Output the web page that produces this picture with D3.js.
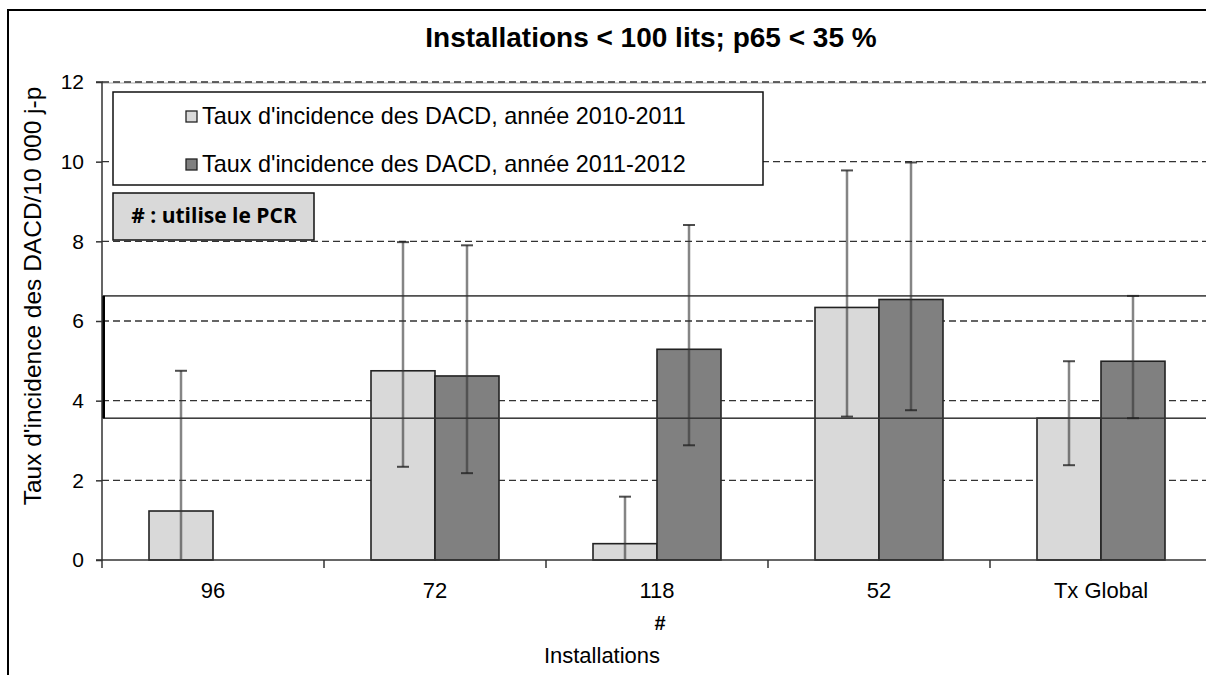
<!DOCTYPE html>
<html><head><meta charset="utf-8">
<script src="https://cdn.jsdelivr.net/npm/d3@7"></script>
<style>body{margin:0;background:#fff;}svg{display:block;font-family:"Liberation Sans",Arial,sans-serif;}</style>
</head><body>
<svg id="c" width="1206" height="675"></svg>
<script>
const categories = ["96", "72", "118", "52", "Tx Global"];
const seriesNames = ["Taux d'incidence des DACD, année 2010-2011", "Taux d'incidence des DACD, année 2011-2012"];
const values2010 = [1.23, 4.75, 0.41, 6.34, 3.56];
const low2010    = [0,    2.34, 0,    3.6,  2.38];
const high2010   = [4.75, 7.98, 1.59, 9.78, 4.99];
const values2011 = [null, 4.62, 5.29, 6.54, 4.99];
const low2011    = [null, 2.18, 2.88, 3.76, 3.56];
const high2011   = [null, 7.9,  8.41, 9.98, 6.63];
const yTicks = [0, 2, 4, 6, 8, 10, 12];
const bandRange = [3.56, 6.63];
const title = "Installations < 100 lits; p65 < 35 %";
const yLabel = "Taux d'incidence des DACD/10 000 j-p";
const xLabel = "Installations";
const pcrCats = ["118"];
const noteText = "# : utilise le PCR";
const colors = ["#d9d9d9", "#808080"];

(function () {
const svg = d3.select("#c");
const pL = 102, pR = 1212, pT = 82, pB = 560;
const x = d3.scaleBand().domain(categories).range([pL, pR]).paddingInner(0).paddingOuter(0);
const y = d3.scaleLinear().domain([0, 12]).range([pB, pT]);
const barW = 64;

// outer frame
svg.append("rect").attr("x", 8).attr("y", 10).attr("width", 1300).attr("height", 800)
  .attr("fill", "none").attr("stroke", "#000").attr("stroke-width", 2);

// title
svg.append("text").attr("x", 651).attr("y", 47).attr("text-anchor", "middle")
  .attr("font-size", 28).attr("font-weight", "bold").attr("fill", "#000").text(title);

// plot top border (gray)
svg.append("line").attr("x1", pL).attr("x2", 1206).attr("y1", y(12) + 1).attr("y2", y(12) + 1)
  .attr("stroke", "#aaa").attr("stroke-width", 1);

// gridlines
svg.append("g").selectAll("line").data(yTicks.filter(d => d > 0)).join("line")
  .attr("x1", pL).attr("x2", 1206).attr("y1", d => y(d)).attr("y2", d => y(d))
  .attr("stroke", "#333").attr("stroke-width", 1.3).attr("stroke-dasharray", "7,4");

// bars
const data = categories.map((c, i) => ({c, i}));
const series = [
  {v: values2010, lo: low2010, hi: high2010, off: -barW, col: colors[0]},
  {v: values2011, lo: low2011, hi: high2011, off: 0, col: colors[1]}
];
series.forEach(s => {
  svg.append("g").selectAll("rect").data(data.filter(d => s.v[d.i] != null)).join("rect")
    .attr("x", d => x(d.c) + x.bandwidth() / 2 + s.off)
    .attr("y", d => y(s.v[d.i]))
    .attr("width", barW)
    .attr("height", d => y(0) - y(s.v[d.i]))
    .attr("fill", s.col).attr("stroke", "#222").attr("stroke-width", 1.6);
});

// band rectangle
svg.append("rect").attr("x", pL + 1.5).attr("y", y(bandRange[1])).attr("width", 1300)
  .attr("height", y(bandRange[0]) - y(bandRange[1]))
  .attr("fill", "none").attr("stroke", "#333").attr("stroke-width", 1.5);
svg.append("line").attr("x1", pL + 1.5).attr("x2", pL + 1.5).attr("y1", y(bandRange[1])).attr("y2", y(bandRange[0]))
  .attr("stroke", "#000").attr("stroke-width", 3);

// error bars
series.forEach(s => {
  const g = svg.append("g");
  data.filter(d => s.v[d.i] != null).forEach(d => {
    const cx = x(d.c) + x.bandwidth() / 2 + s.off + barW / 2;
    g.append("line").attr("x1", cx).attr("x2", cx).attr("y1", y(s.lo[d.i])).attr("y2", y(s.hi[d.i]))
      .attr("stroke", "#333").attr("stroke-opacity", 0.6).attr("stroke-width", 2.5);
    [s.lo[d.i], s.hi[d.i]].forEach(v => {
      if (v > 0) g.append("line").attr("x1", cx - 6).attr("x2", cx + 6).attr("y1", y(v)).attr("y2", y(v))
        .attr("stroke", "#222").attr("stroke-opacity", 0.8).attr("stroke-width", 2);
    });
  });
});

// y axis
const yAxis = d3.axisLeft(y).tickValues(yTicks).tickSize(6).tickPadding(12).tickFormat(d3.format("d"));
const ya = svg.append("g").attr("transform", `translate(${pL},0)`).call(yAxis);
ya.select(".domain").attr("stroke", "#333").attr("stroke-width", 1.5).attr("d", `M-6,${pT}H0V${pB}H-6`);
ya.selectAll(".tick line").attr("stroke", "#333").attr("stroke-width", 1.5);
ya.selectAll("text").attr("font-size", 21).attr("fill", "#000").attr("font-family", "Liberation Sans, Arial, sans-serif");

// x axis
const xa = svg.append("g").attr("transform", `translate(0,${pB})`);
xa.append("line").attr("x1", pL).attr("x2", 1206).attr("y1", 0).attr("y2", 0).attr("stroke", "#333").attr("stroke-width", 1.5);
xa.selectAll("line.tk").data(categories.concat(["_end"])).join("line").attr("class", "tk")
  .attr("x1", (d, i) => pL + i * x.bandwidth()).attr("x2", (d, i) => pL + i * x.bandwidth())
  .attr("y1", 0).attr("y2", 8).attr("stroke", "#333").attr("stroke-width", 1.5);
xa.selectAll("text.lb").data(categories).join("text").attr("class", "lb")
  .attr("x", d => x(d) + x.bandwidth() / 2).attr("y", 38).attr("text-anchor", "middle")
  .attr("font-size", 22).attr("fill", "#000").text(d => d);
xa.selectAll("text.pcr").data(pcrCats).join("text").attr("class", "pcr")
  .attr("x", d => x(d) + x.bandwidth() / 2 + 3).attr("y", 70).attr("text-anchor", "middle")
  .attr("font-size", 20).attr("font-weight", "bold").attr("fill", "#000").text("#");

// x label
svg.append("text").attr("x", 602).attr("y", 663).attr("text-anchor", "middle")
  .attr("font-size", 22).attr("fill", "#000").text(xLabel);

// y label
svg.append("text").attr("transform", "translate(41,296) rotate(-90)").attr("text-anchor", "middle")
  .attr("font-size", 24.5).attr("fill", "#000").text(yLabel);

// legend
const lg = svg.append("g");
lg.append("rect").attr("x", 113).attr("y", 92).attr("width", 650).attr("height", 93)
  .attr("fill", "#fff").attr("stroke", "#111").attr("stroke-width", 1.5);
seriesNames.forEach((n, i) => {
  const base = 124 + i * 48;
  lg.append("rect").attr("x", 186).attr("y", base - 13).attr("width", 11).attr("height", 11)
    .attr("fill", colors[i]).attr("stroke", "#222").attr("stroke-width", 1.3);
  lg.append("text").attr("x", 202).attr("y", base).attr("font-size", 23.4).attr("fill", "#000").text(n);
});

// note box
svg.append("rect").attr("x", 113).attr("y", 193).attr("width", 201).attr("height", 47)
  .attr("fill", "#d9d9d9").attr("stroke", "#111").attr("stroke-width", 1.5);
svg.append("text").attr("x", 214).attr("y", 223).attr("text-anchor", "middle")
  .attr("font-size", 21).attr("font-weight", "bold").attr("font-family", "Open Sans, sans-serif")
  .attr("fill", "#000").text(noteText);
})();
</script>
</body></html>
